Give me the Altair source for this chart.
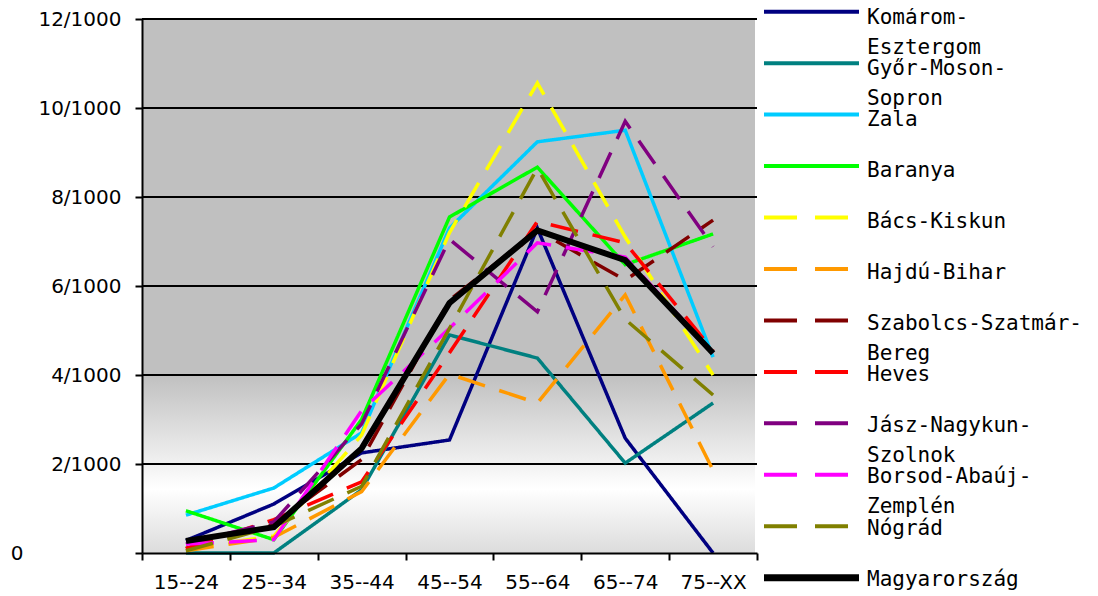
import altair as alt
import pandas as pd

ages = ["15--24", "25--34", "35--44", "45--54", "55--64", "65--74", "75--XX"]

series = ["Komárom-Esztergom", "Győr-Moson-Sopron", "Zala", "Baranya", "Bács-Kiskun",
          "Hajdú-Bihar", "Szabolcs-Szatmár-Bereg", "Heves", "Jász-Nagykun-Szolnok",
          "Borsod-Abaúj-Zemplén", "Nógrád", "Magyarország"]
legend_labels = ["Komárom-\nEsztergom", "Győr-Moson-\nSopron", "Zala", "Baranya", "Bács-Kiskun",
                 "Hajdú-Bihar", "Szabolcs-Szatmár-\nBereg", "Heves", "Jász-Nagykun-\nSzolnok",
                 "Borsod-Abaúj-\nZemplén", "Nógrád", "Magyarország"]
colors = ["#000080", "#008080", "#00CCFF", "#00FF00", "#FFFF00", "#FF9900",
          "#800000", "#FF0000", "#800080", "#FF00FF", "#808000", "#000000"]
styles = ["solid", "solid", "solid", "solid", "dash", "dash",
          "dash", "dash", "dash", "dash", "dash", "solid"]

# values per 1000
komarom = [0.28, 1.1, 2.25, 2.54, 7.3, 2.58, 0.0]
gyor = [0.0, 0.0, 1.42, 4.9, 4.38, 2.02, 3.37]
zala = [0.85, 1.46, 2.7, 7.3, 9.24, 9.5, 4.4]
baranya = [0.95, 0.3, 3.0, 7.55, 8.67, 6.48, 7.17]
bacs = [0.1, 0.38, 2.65, 7.2, 10.56, 7.1, 4.0]
hajdu = [0.05, 0.35, 1.38, 4.02, 3.37, 5.8, 1.86]
szabolcs = [0.1, 0.65, 2.1, 5.68, 7.25, 6.13, 7.48]
heves = [0.1, 0.75, 1.6, 4.5, 7.45, 6.97, 4.55]
jasz = [0.2, 0.7, 2.9, 7.05, 5.42, 9.7, 6.88]
borsod = [0.2, 0.3, 3.2, 5.05, 6.97, 6.65, 4.5]
nograd = [0.05, 0.6, 1.5, 5.05, 8.65, 5.25, 3.55]
magyar = [0.27, 0.58, 2.35, 5.62, 7.25, 6.58, 4.49]

all_values = [komarom, gyor, zala, baranya, bacs, hajdu, szabolcs, heves, jasz, borsod, nograd, magyar]

grid_values = [2, 4, 6, 8, 10, 12]
y_ticks = [0, 2, 4, 6, 8, 10, 12]

rows = []
for s, st, vals in zip(series, styles, all_values):
    for a, v in zip(ages, vals):
        rows.append({"age": a, "series": s, "style": st, "value": v})
df = pd.DataFrame(rows)

leg_df = pd.DataFrame({"idx": list(range(len(series))), "series": series,
                       "label": legend_labels, "style": styles})
grid_df = pd.DataFrame({"g": grid_values})
bg_df = pd.DataFrame({"a": [0]})

W, H = 615, 534
FONT = "DejaVu Sans"
LEG_FONT = "DejaVu Sans Mono"

color_scale = alt.Scale(domain=series, range=colors)
y_scale = alt.Scale(domain=[0, 12], nice=False, zero=True)

x_enc = alt.X("age:N", sort=ages, bandPosition=0.5,
              scale=alt.Scale(type="band", domain=ages, paddingInner=0, paddingOuter=0),
              axis=alt.Axis(title=None, labelAngle=0, tickBand="extent", domainColor="black",
                            domainWidth=2, tickColor="black", tickWidth=2, tickSize=7,
                            labelFont=FONT, labelFontSize=20, labelColor="black",
                            labelPadding=12, grid=False, zindex=1))

y_axis = alt.Axis(title=None, values=y_ticks, grid=False, domainColor="black", domainWidth=2,
                  tickColor="black", tickWidth=2, tickSize=7, labelFont=FONT, labelFontSize=20,
                  labelColor="black", zindex=1,
                  labelExpr="datum.value == 0 ? '0' : datum.value + '/1000'",
                  labelPadding={"condition": {"test": "datum.value === 0", "value": 112}, "value": 14})

bg = alt.Chart(bg_df).mark_rect(
    fill={"gradient": "linear", "x1": 0, "y1": 0, "x2": 0, "y2": 1,
          "stops": [{"offset": 0, "color": "#C0C0C0"},
                    {"offset": 0.667, "color": "#C0C0C0"},
                    {"offset": 0.88, "color": "#FFFFFF"},
                    {"offset": 1, "color": "#DCDCDC"}]}
).encode(x=alt.value(0), x2=alt.value(W - 2), y=alt.value(0), y2=alt.value(H))

grid = alt.Chart(grid_df).mark_rule(color="black", strokeWidth=2).encode(
    y=alt.Y("g:Q", scale=y_scale, axis=None), x=alt.value(0), x2=alt.value(W))

dash_scale = alt.Scale(domain=["solid", "dash"], range=[[1, 0], [28, 15]])

regional = alt.Chart(df).transform_filter(alt.datum.series != "Magyarország").mark_line(
    strokeWidth=3.5, strokeCap="butt", strokeJoin="miter").encode(
    x=x_enc,
    y=alt.Y("value:Q", scale=y_scale, axis=y_axis),
    color=alt.Color("series:N", scale=color_scale, legend=None),
    strokeDash=alt.StrokeDash("style:N", scale=dash_scale, legend=None),
    detail="series:N")

national = alt.Chart(df).transform_filter(alt.datum.series == "Magyarország").mark_line(
    strokeWidth=6, strokeJoin="miter").encode(
    x=x_enc,
    y=alt.Y("value:Q", scale=y_scale, axis=None),
    color=alt.Color("series:N", scale=color_scale, legend=None))

leg_y = alt.Scale(type="point", domain=list(range(len(series))), range=[-7.3, 558.7], padding=0)
leg_text_y = alt.Scale(type="point", domain=list(range(len(series))), range=[-3.5, 558.7], padding=0)

leg_solid = alt.Chart(leg_df).transform_filter(alt.datum.style == "solid").mark_rule(
    strokeCap="butt").encode(
    x=alt.value(622), x2=alt.value(717),
    y=alt.Y("idx:O", scale=leg_y, axis=None),
    color=alt.Color("series:N", scale=color_scale, legend=None),
    strokeWidth=alt.condition(alt.datum.series == "Magyarország", alt.value(7), alt.value(4)))

leg_dash = alt.Chart(leg_df).transform_filter(alt.datum.style == "dash").mark_rule(
    strokeCap="butt", strokeWidth=4, strokeDash=[33, 18]).encode(
    x=alt.value(622), x2=alt.value(717),
    y=alt.Y("idx:O", scale=leg_y, axis=None),
    color=alt.Color("series:N", scale=color_scale, legend=None))

leg_text = alt.Chart(leg_df).mark_text(
    align="left", baseline="alphabetic", dy=8, lineBreak="\n", lineHeight=30,
    font=LEG_FONT, fontSize=21, color="black").encode(
    x=alt.value(725),
    y=alt.Y("idx:O", scale=leg_text_y, axis=None),
    text="label:N")

chart = alt.layer(bg, grid, regional, national, leg_solid, leg_dash, leg_text).resolve_scale(
    y="independent").properties(
    width=W, height=H,
    autosize=alt.AutoSizeParams(type="none"),
    padding={"left": 134, "top": 11, "right": 333, "bottom": 43},
    background="white"
).configure_view(stroke=None)

chart.save("out.html", embed_options={"renderer": "svg", "actions": False})
